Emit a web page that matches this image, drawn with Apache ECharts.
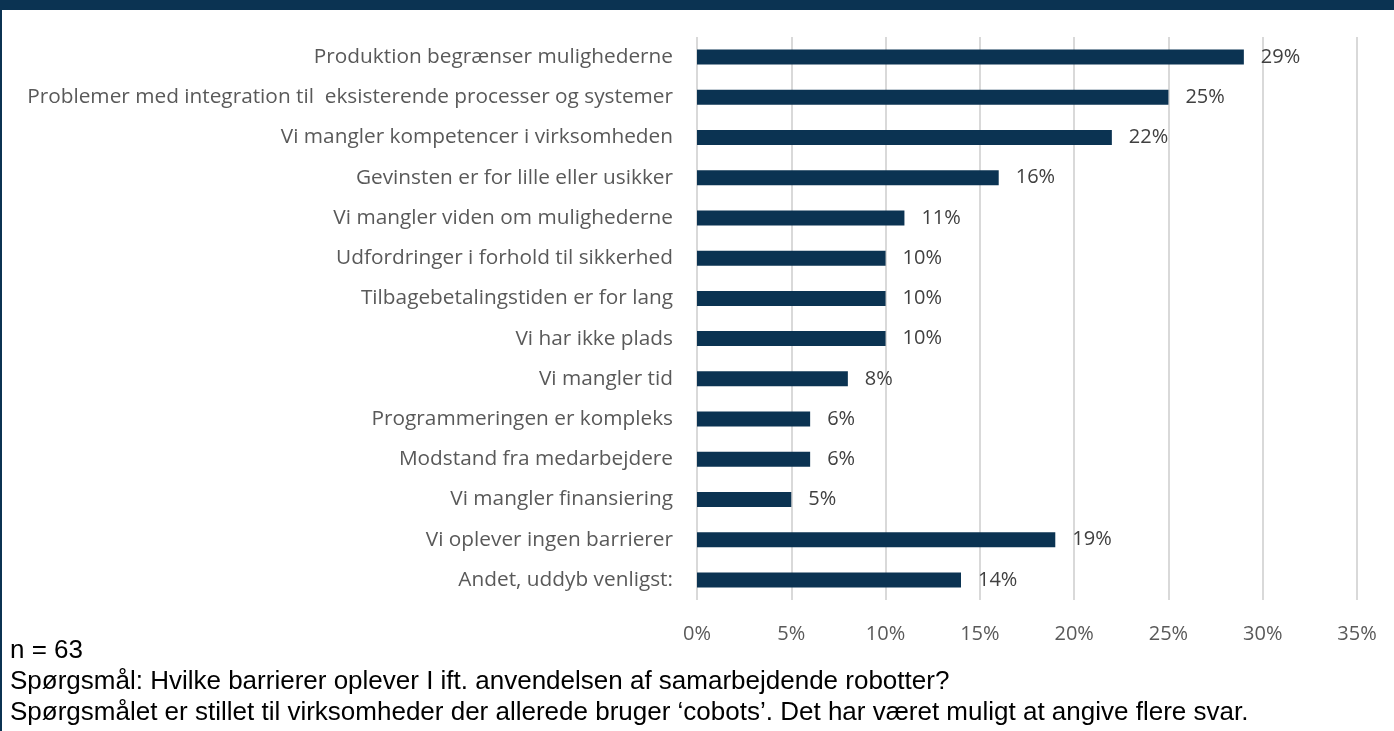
<!DOCTYPE html>
<html>
<head>
<meta charset="UTF-8">
<title>Barrierer</title>
<script src="https://cdn.jsdelivr.net/npm/echarts@6/dist/echarts.min.js"></script>
<style>
  * { margin: 0; padding: 0; }
  html, body { width: 1394px; height: 731px; background: #fff; overflow: hidden; }
</style>
</head>
<body>
<div id="main" style="width:1394px;height:731px;"></div>
<script>
var categories = [
  'Produktion begrænser mulighederne',
  'Problemer med integration til  eksisterende processer og systemer',
  'Vi mangler kompetencer i virksomheden',
  'Gevinsten er for lille eller usikker',
  'Vi mangler viden om mulighederne',
  'Udfordringer i forhold til sikkerhed',
  'Tilbagebetalingstiden er for lang',
  'Vi har ikke plads',
  'Vi mangler tid',
  'Programmeringen er kompleks',
  'Modstand fra medarbejdere',
  'Vi mangler finansiering',
  'Vi oplever ingen barrierer',
  'Andet, uddyb venligst:'
];
var values = [29, 25, 22, 16, 11, 10, 10, 10, 8, 6, 6, 5, 19, 14];
var footerLines = [
  'n = 63',
  'Spørgsmål: Hvilke barrierer oplever I ift. anvendelsen af samarbejdende robotter?',
  'Spørgsmålet er stillet til virksomheder der allerede bruger \u2018cobots\u2019. Det har været muligt at angive flere svar.'
];

var navy = '#0b3352';
var chart = echarts.init(document.getElementById('main'));

var option = {
  backgroundColor: '#fff',
  animation: false,
  textStyle: { fontFamily: 'Open Sans' },
  title: {
    text: footerLines.join('\n'),
    left: 5,
    top: 630,
    textStyle: {
      fontFamily: 'Liberation Sans',
      fontSize: 26,
      lineHeight: 31,
      fontWeight: 'normal',
      color: '#000'
    }
  },
  grid: { left: 697, right: 37, top: 37, bottom: 131, containLabel: false },
  xAxis: {
    type: 'value',
    min: 0,
    max: 35,
    interval: 5,
    axisLine: { show: false },
    axisTick: { show: false },
    splitLine: { show: true, lineStyle: { color: '#d9d9d9', width: 2 } },
    axisLabel: {
      formatter: '{value}%',
      color: '#595959',
      fontSize: 20,
      margin: 24
    }
  },
  yAxis: {
    type: 'category',
    inverse: true,
    data: categories,
    axisLine: { show: false },
    axisTick: { show: false },
    axisLabel: { color: '#595959', fontSize: 20.8, margin: 24 }
  },
  series: [{
    type: 'bar',
    data: values,
    barWidth: 15,
    itemStyle: { color: navy },
    label: {
      show: true,
      position: 'right',
      distance: 17,
      formatter: '{c}%',
      color: '#404040',
      fontSize: 20
    }
  }],
  graphic: [
    { type: 'rect', left: 0, top: 0, shape: { width: 1394, height: 10 }, style: { fill: navy } },
    { type: 'rect', left: 0, top: 0, shape: { width: 2, height: 731 }, style: { fill: navy } }
  ]
};

chart.setOption(option);
</script>
</body>
</html>
